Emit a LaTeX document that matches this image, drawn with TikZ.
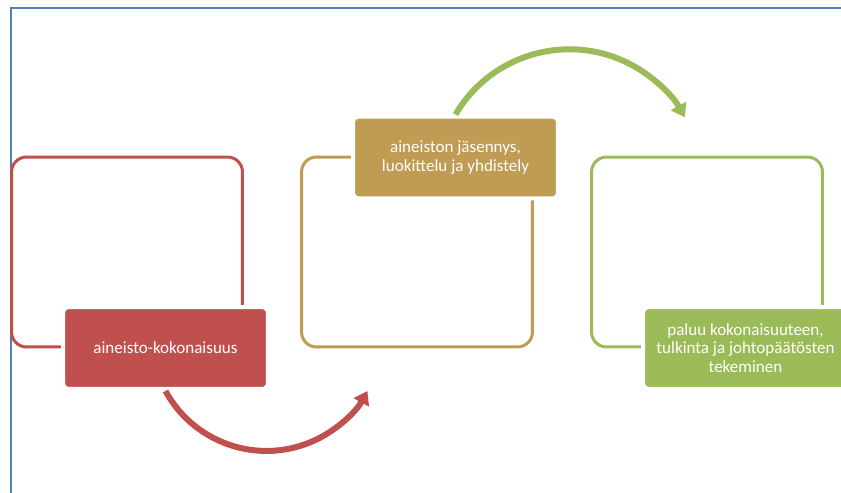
\documentclass[tikz,border=0pt]{standalone}
\usepackage{fontspec}
\setmainfont{Carlito}
\usetikzlibrary{arrows.meta}

\definecolor{FrameBlue}{HTML}{4F81BD}
\definecolor{RedMark}{HTML}{C0504D}
\definecolor{TanMark}{HTML}{C09B53}
\definecolor{GreenMark}{HTML}{9BBB59}

\begin{document}
\begin{tikzpicture}[x=0.02cm,y=-0.02cm,
  stagebox/.style={draw=#1,fill=white,line width=0.06cm,rounded corners=0.3cm,
    minimum width=4.62cm,minimum height=3.8cm,inner sep=0pt},
  stagelabel/.style={draw=white,fill=#1,line width=0.08cm,rounded corners=0.12cm,
    minimum width=4.1cm,minimum height=1.64cm,inner sep=0pt,align=center,
    text=white,font=\fontsize{9.7}{10.6}\selectfont},
  stagearrow/.style={draw=#1,line width=0.12cm,
    -{Triangle[width=0.34cm,length=0.26cm]}}]

\clip (0,0) rectangle (841,493);

%Frame
\draw [FrameBlue,line width=0.03cm] (11,500) -- (11,8) -- (850,8);

%Stage boxes
\node[stagebox=RedMark]   (redbox)   at (127,252) {};
\node[stagebox=TanMark]   (tanbox)   at (417,252) {};
\node[stagebox=GreenMark] (greenbox) at (707,252) {};

%Labels
\node[stagelabel=RedMark]   (redlab)   at (165.5,348) {aineisto-kokonaisuus};
\node[stagelabel=TanMark]   (tanlab)   at (455.5,157.5) {aineiston jäsennys,\\luokittelu ja yhdistely};
\node[stagelabel=GreenMark] (greenlab) at (745.5,348) {paluu kokonaisuuteen,\\tulkinta ja johtopäätösten\\tekeminen};

%Arrows
\draw [stagearrow=RedMark]   (redlab.south) arc[start angle=151.4,end angle=28.6,radius=115];
\draw [stagearrow=GreenMark] (tanlab.north) arc[start angle=210.4,end angle=331,radius=132];

\end{tikzpicture}
\end{document}
